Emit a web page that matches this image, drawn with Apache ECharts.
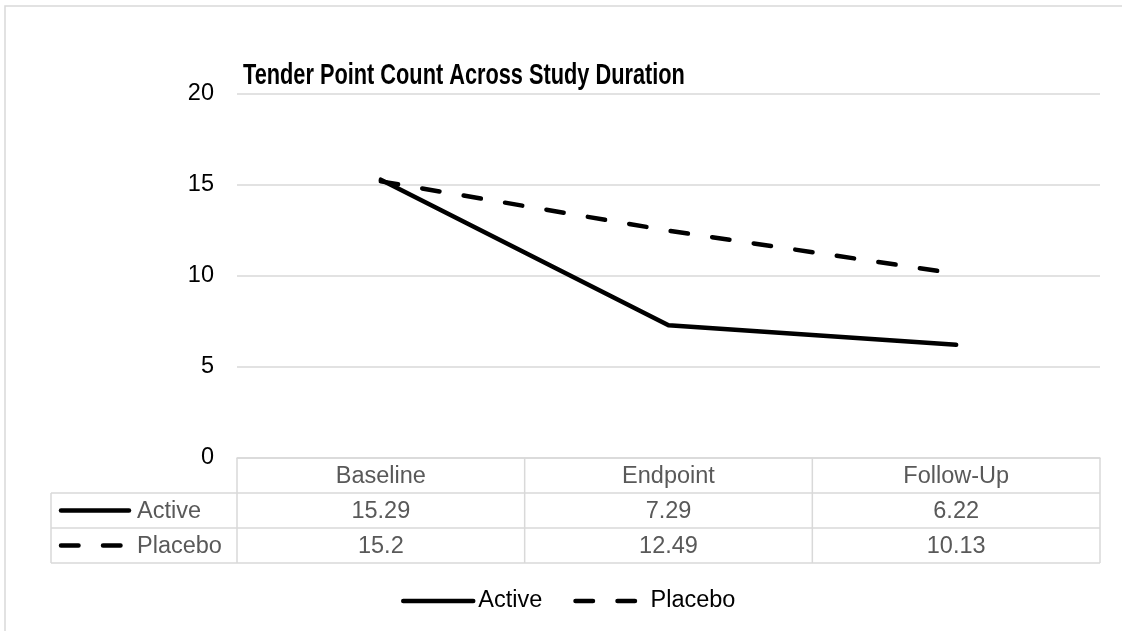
<!DOCTYPE html>
<html>
<head>
<meta charset="utf-8">
<script src="https://cdn.jsdelivr.net/npm/echarts@6/dist/echarts.min.js"></script>
<style>
  html, body { margin: 0; padding: 0; background: #ffffff; }
  #chart { width: 1122px; height: 631px; }
</style>
</head>
<body>
<div id="chart"></div>
<script>
// Tender point counts at each study visit
const titleText = 'Tender Point Count Across Study Duration';
const categories = ['Baseline', 'Endpoint', 'Follow-Up'];
const activeName = 'Active';
const placeboName = 'Placebo';
const activeValues = [15.29, 7.29, 6.22];
const placeboValues = [15.2, 12.49, 10.13];
const yMin = 0;
const yMax = 20;
const yStep = 5;

const FONT = '"Liberation Sans", Arial, sans-serif';
const FS = 23.5;
const GRID_COLOR = '#d9d9d9';
const TABLE_TEXT = '#595959';
const dashPattern = [17.5, 24.5];

const chart = echarts.init(document.getElementById('chart'), null, { renderer: 'canvas' });

const lineBase = { width: 4.5, color: '#000000', cap: 'round', join: 'round' };

chart.setOption({
  animation: false,
  backgroundColor: '#ffffff',
  textStyle: { fontFamily: FONT },
  grid: { left: 237, right: 22, top: 94, bottom: 173, containLabel: false },
  xAxis: {
    type: 'category',
    data: categories,
    boundaryGap: true,
    axisLine: { show: true, lineStyle: { color: GRID_COLOR, width: 1.5 } },
    axisTick: { show: false },
    axisLabel: { show: false },
    splitLine: { show: false }
  },
  yAxis: {
    type: 'value',
    min: yMin,
    max: yMax,
    interval: yStep,
    axisLine: { show: false },
    axisTick: { show: false },
    axisLabel: { color: '#000000', fontSize: FS, fontFamily: FONT, margin: 23 },
    splitLine: { show: true, lineStyle: { color: GRID_COLOR, width: 1.5 } }
  },
  legend: {
    top: 584,
    left: 396,
    itemWidth: 70,
    itemHeight: 28,
    itemGap: 31,
    itemStyle: { opacity: 0 },
    lineStyle: { width: 4.5, cap: 'round', type: 'inherit', color: 'inherit' },
    textStyle: { fontFamily: FONT, fontSize: FS, color: '#000000' },
    data: [activeName, placeboName]
  },
  series: [
    {
      name: activeName,
      type: 'line',
      data: activeValues,
      symbol: 'none',
      lineStyle: Object.assign({}, lineBase, { type: 'solid' }),
      itemStyle: { color: '#000000' }
    },
    {
      name: placeboName,
      type: 'line',
      data: placeboValues,
      symbol: 'none',
      lineStyle: Object.assign({}, lineBase, { type: dashPattern }),
      itemStyle: { color: '#000000' }
    }
  ]
});

// Title (condensed bold) and the data table below the plot
function buildExtras() {
  const y0 = chart.convertToPixel({ yAxisIndex: 0 }, yMin);
  const xs = categories.map((c, i) => chart.convertToPixel({ xAxisIndex: 0 }, i));
  const band = xs.length > 1 ? xs[1] - xs[0] : 288;
  const left = xs[0] - band / 2;
  const right = xs[xs.length - 1] + band / 2;
  const tableLeft = 51;
  const rowH = 35;
  const rowTops = [y0, y0 + rowH, y0 + rowH * 2, y0 + rowH * 3];
  const lineStyle = { stroke: GRID_COLOR, lineWidth: 1.5 };
  const font = FS + 'px ' + FONT;
  const els = [];

  els.push({
    type: 'text', silent: true,
    x: 243, y: 76, scaleX: 0.75, scaleY: 1,
    style: { x: 0, y: 0, text: titleText, align: 'left', verticalAlign: 'middle',
             fill: '#000000', font: 'bold 29px ' + FONT }
  });

  // horizontal rules
  for (let r = 1; r <= 3; r++) {
    els.push({ type: 'line', silent: true, shape: { x1: tableLeft, y1: rowTops[r], x2: right, y2: rowTops[r] }, style: lineStyle });
  }
  // vertical rules
  els.push({ type: 'line', silent: true, shape: { x1: tableLeft, y1: rowTops[1], x2: tableLeft, y2: rowTops[3] }, style: lineStyle });
  for (let i = 0; i <= categories.length; i++) {
    const x = left + band * i;
    els.push({ type: 'line', silent: true, shape: { x1: x, y1: rowTops[0], x2: x, y2: rowTops[3] }, style: lineStyle });
  }

  // header row: category names
  categories.forEach((c, i) => {
    els.push({
      type: 'text', silent: true,
      style: { x: xs[i], y: rowTops[0] + rowH / 2 + 1, text: c, align: 'center', verticalAlign: 'middle',
               fill: TABLE_TEXT, font: font }
    });
  });

  // series rows: key line, name, values
  const rows = [
    { name: activeName, values: activeValues, dash: null },
    { name: placeboName, values: placeboValues, dash: dashPattern }
  ];
  rows.forEach((r, ri) => {
    const cy = rowTops[ri + 1] + rowH / 2;
    els.push({
      type: 'line', silent: true,
      shape: { x1: 61, y1: cy, x2: 129, y2: cy },
      style: { stroke: '#000000', lineWidth: 4.5, lineCap: 'round', lineDash: r.dash || null }
    });
    els.push({
      type: 'text', silent: true,
      style: { x: 137, y: cy + 1, text: r.name, align: 'left', verticalAlign: 'middle',
               fill: TABLE_TEXT, font: font }
    });
    r.values.forEach((v, i) => {
      els.push({
        type: 'text', silent: true,
        style: { x: xs[i], y: cy + 1, text: String(v), align: 'center', verticalAlign: 'middle',
                 fill: TABLE_TEXT, font: font }
      });
    });
  });

  // chart area frame
  els.push({
    type: 'rect', silent: true, z: -1,
    shape: { x: 5, y: 6, width: 1140, height: 660 },
    style: { fill: null, stroke: GRID_COLOR, lineWidth: 1.5 }
  });

  chart.setOption({ graphic: { elements: els } });
}

buildExtras();
</script>
</body>
</html>
